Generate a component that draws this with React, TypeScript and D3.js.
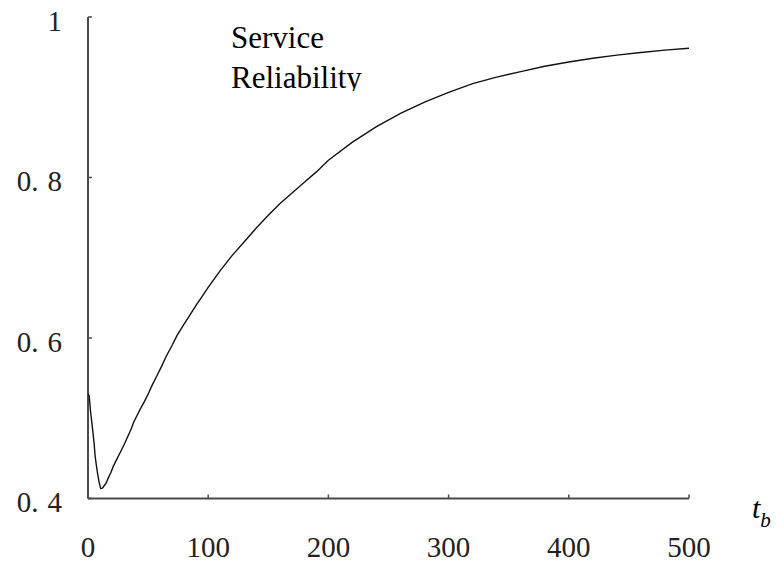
import React from "react";
import * as d3 from "d3";

const W = 784;
const H = 563;

// Readings of the service reliability curve
const tbValues = [0, 1, 2, 3, 4, 5, 6, 7, 8, 9, 10.5, 12, 13, 15, 17, 19, 21, 24, 27, 30, 33, 36, 38, 41, 44, 47, 50, 53, 57, 61, 65, 70, 74, 79, 85, 90, 95, 100, 110, 120, 130, 140, 150, 160, 170, 180, 190, 200, 220, 240, 260, 280, 300, 320, 340, 360, 380, 400, 420, 440, 460, 480, 500];
const reliability = [0.530, 0.528, 0.510, 0.497, 0.484, 0.470, 0.452, 0.441, 0.431, 0.422, 0.4125, 0.413, 0.415, 0.419, 0.426, 0.432, 0.440, 0.449, 0.458, 0.467, 0.477, 0.487, 0.495, 0.504, 0.513, 0.521, 0.530, 0.540, 0.552, 0.564, 0.577, 0.591, 0.603, 0.615, 0.629, 0.641, 0.652, 0.663, 0.684, 0.703, 0.720, 0.737, 0.753, 0.768, 0.781, 0.794, 0.807, 0.8215, 0.844, 0.8635, 0.880, 0.894, 0.906, 0.917, 0.925, 0.932, 0.9386, 0.944, 0.9486, 0.9525, 0.9558, 0.9587, 0.961];

const xTicks = [0, 100, 200, 300, 400, 500];
const yTicks = [0.4, 0.6, 0.8, 1];
const titleLines = ["Service", "Reliability"];

export default function App() {
  const x = d3.scaleLinear().domain([0, 500]).range([88, 689]);
  const y = d3.scaleLinear().domain([0.4, 1]).range([498.5, 17]);
  const pts: [number, number][] = tbValues.map((t, i) => [t, reliability[i]]);
  const line = d3
    .line<[number, number]>()
    .x((d) => x(d[0]))
    .y((d) => y(d[1]))
    .curve(d3.curveLinear);

  const axisColor = "#4a4a4a";
  const serif = "'Liberation Serif', 'Times New Roman', serif";

  const fmtY = (v: number) => {
    if (v === 1) return { a: "1", b: "" };
    const s = v.toFixed(1).split(".");
    return { a: s[0] + ".", b: s[1] };
  };

  return (
    <svg
      width={W}
      height={H}
      style={{ position: "absolute", left: 0, top: 0, background: "#fff" }}
    >
      <defs>
        <clipPath id="titleClip">
          <rect x={200} y={0} width={250} height={91} />
        </clipPath>
      </defs>
      <rect x={0} y={0} width={W} height={H} fill="#fff" />

      {/* axes */}
      <line x1={x(0)} x2={x(0)} y1={y(1)} y2={y(0.4)} stroke={axisColor} strokeWidth={2} />
      <line x1={x(0)} x2={x(500)} y1={y(0.4)} y2={y(0.4)} stroke={axisColor} strokeWidth={2} />
      {yTicks.map((v) => (
        <line key={"yt" + v} x1={x(0)} x2={x(0) + 4} y1={y(v)} y2={y(v)} stroke={axisColor} strokeWidth={1.5} />
      ))}
      {xTicks.map((v) => (
        <line key={"xt" + v} x1={x(v)} x2={x(v)} y1={y(0.4)} y2={y(0.4) - 4} stroke={axisColor} strokeWidth={1.5} />
      ))}

      {/* tick labels */}
      {yTicks.map((v) => {
        const f = fmtY(v);
        return (
          <text
            key={"yl" + v}
            x={62}
            y={y(v) + 13.5}
            textAnchor="end"
            fontFamily={serif}
            fontSize={29}
            fill="#222"
          >
            {f.a}
            {f.b && <tspan dx={9}>{f.b}</tspan>}
          </text>
        );
      })}
      {xTicks.map((v) => (
        <text
          key={"xl" + v}
          x={x(v)}
          y={557}
          textAnchor="middle"
          fontFamily={serif}
          fontSize={29}
          fill="#222"
        >
          {v}
        </text>
      ))}

      {/* curve */}
      <path d={line(pts) || ""} fill="none" stroke="#111" strokeWidth={1.4} />

      {/* title */}
      <g clipPath="url(#titleClip)">
        {titleLines.map((s, i) => (
          <text key={s} x={231} y={48 + i * 40} fontFamily={serif} fontSize={31} fill="#000">
            {s}
          </text>
        ))}
      </g>

      {/* axis label */}
      <text x={752} y={518} fontFamily={serif} fontSize={30} fontStyle="italic" fill="#000">
        t
        <tspan dy={9} fontSize={21}>b</tspan>
      </text>
    </svg>
  );
}
